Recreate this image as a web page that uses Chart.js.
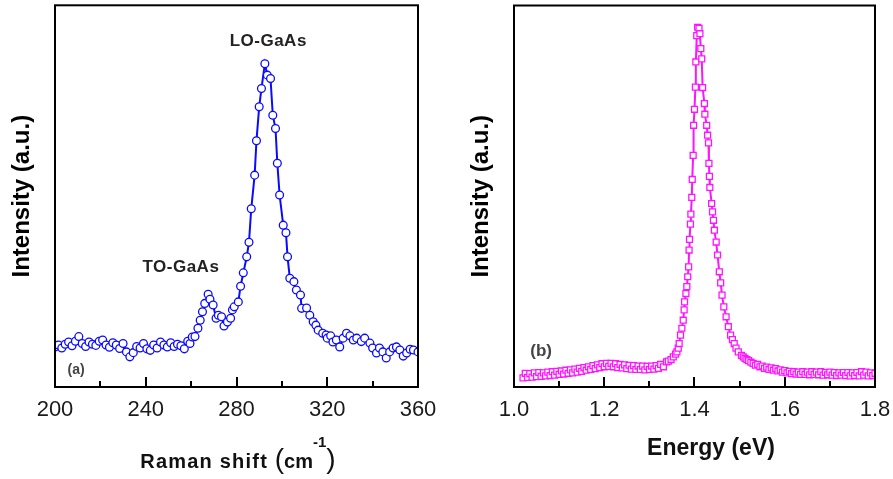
<!DOCTYPE html>
<html>
<head>
<meta charset="utf-8">
<script src="https://cdn.jsdelivr.net/npm/chart.js@4"></script>
<style>
body { margin:0; background:#fff; width:893px; height:479px; overflow:hidden; position:relative; }
canvas { position:absolute; top:0; }
</style>
</head>
<body>
<canvas id="raman" width="440" height="479" style="left:0"></canvas>
<canvas id="pl" width="453" height="479" style="left:440px"></canvas>
<script>
// (a) Raman spectrum
var ramanShift = [200,201.5,203,204.5,206,207.5,209,210.5,212,213.5,
  215,216.5,218,219.5,221,222.5,224,225.5,227,228.5,
  230,231.5,233,234.5,236,237.5,239,240.5,242,243.5,
  245,246.5,248,249.5,251,252.5,254,255.5,257,258.5,
  259.5,260.5,261.7,263,264,265,266,267.5,268.3,269.7,
  271,272,273.4,274.5,276,277.4,278.2,279,280.8,281.8,
  283,284.5,285.5,286.5,288,288.8,290,291,292.5,293.6,
  295,296,297.2,298,299,300.6,301.8,302.5,303.5,305.3,
  306.4,308.2,308.7,310.9,312.3,313.8,315,316,318,319.5,
  320,321.5,322.5,324,325.5,327,328.5,330,331.5,333,
  335,336.5,338.8,340,341.7,343,344.5,346,347.5,349,
  350.5,352,353.5,355,356.5,358,360];
var ramanInt = [10.5,11.0,10.2,11.2,11.8,10.8,12.0,13.2,11.4,10.6,
  11.8,11.2,10.9,12.0,12.3,11.0,10.4,11.6,11.0,10.1,
  11.4,9.2,7.9,9.0,10.6,10.2,11.4,10.0,9.6,11.0,
  10.2,11.8,11.0,10.5,11.6,10.6,11.2,10.8,10.0,12.0,
  11.4,13.1,13.2,15.4,17.5,19.7,21.9,24.3,23.0,21.5,
  18.0,18.8,18.4,16.0,17.0,18.0,20.2,21.0,22.3,26.4,
  29.9,34.1,37.9,46.7,55.5,64.5,73.4,78.2,84.7,81.7,
  80.8,71.2,67.7,58.6,50.3,42.4,40.4,34.1,28.5,27.6,
  25.4,24.1,20.6,20.7,18.8,17.1,16.2,14.9,14.1,13.6,
  12.8,13.4,11.8,12.3,10.5,12.8,14.1,13.4,12.3,12.8,
  11.9,12.8,11.5,10.2,8.9,10.2,9.2,7.6,9.2,10.2,
  10.5,9.7,8.1,8.9,9.9,9.7,9.2];
var ramanTicks = [200, 240, 280, 320, 360];
var ramanMinor = [220, 260, 300, 340];

// (b) PL spectrum
var energy = [1.020,1.025,1.030,1.035,1.040,1.045,1.050,1.055,1.060,1.065,
  1.070,1.075,1.080,1.085,1.090,1.095,1.100,1.105,1.110,1.115,
  1.120,1.125,1.130,1.135,1.140,1.145,1.150,1.155,1.160,1.165,
  1.170,1.175,1.180,1.185,1.190,1.195,1.200,1.205,1.210,1.215,
  1.220,1.225,1.230,1.235,1.240,1.245,1.250,1.255,1.260,1.265,
  1.270,1.275,1.280,1.285,1.290,1.295,1.300,1.305,1.310,1.315,
  1.320,1.325,1.331,1.338,1.342,1.348,1.353,1.358,1.361,1.364,
  1.366,1.369,1.372,1.375,1.377,1.378,1.381,1.383,1.385,1.387,
  1.388,1.389,1.391,1.392,1.394,1.395,1.397,1.398,1.400,1.402,
  1.403,1.405,1.407,1.410,1.412,1.414,1.416,1.418,1.422,1.423,
  1.427,1.429,1.431,1.432,1.433,1.434,1.438,1.440,1.442,1.444,
  1.448,1.451,1.455,1.458,1.461,1.465,1.470,1.475,1.480,1.484,
  1.488,1.492,1.497,1.504,1.508,1.512,1.516,1.520,1.525,1.530,
  1.535,1.540,1.545,1.550,1.555,1.560,1.565,1.570,1.575,1.580,
  1.585,1.590,1.595,1.600,1.605,1.610,1.615,1.620,1.625,1.630,
  1.635,1.640,1.645,1.650,1.655,1.660,1.665,1.670,1.675,1.680,
  1.685,1.690,1.695,1.700,1.705,1.710,1.715,1.720,1.725,1.730,
  1.735,1.740,1.745,1.750,1.755,1.760,1.765,1.770,1.775,1.780,
  1.785,1.790,1.795,1.800];
var plInt = [2.4,3.6,2.5,3.5,2.6,3.7,2.7,3.8,2.8,3.7,
  2.9,3.9,3.0,4.0,3.1,4.1,3.3,4.2,3.4,4.4,
  3.6,4.5,3.7,4.7,3.9,4.9,4.1,5.1,4.4,5.3,
  4.6,5.6,4.8,5.8,5.1,6.1,5.3,6.2,5.4,6.2,
  5.3,6.1,5.1,5.9,5.0,5.8,4.8,5.7,4.7,5.6,
  4.6,5.5,4.6,5.5,4.5,5.4,4.6,5.5,4.7,5.6,
  4.9,5.9,5.3,6.6,6.8,7.2,7.9,8.6,9.2,10.2,
  11.4,13.6,15.4,17.5,20.2,22.3,24.5,26.3,28.9,31.5,
  35.9,38.7,42.7,45.3,49.7,54.4,60.7,68.6,72.8,78.6,
  85.2,92.1,94.3,94.0,92.6,88.7,86.0,78.5,74.3,71.5,
  68.6,66.0,64.0,58.6,55.2,52.3,48.1,45.9,43.7,41.1,
  38.0,34.6,30.2,27.3,24.1,21.0,18.4,15.8,13.6,12.4,
  11.4,10.2,9.2,8.3,7.9,7.5,7.2,6.9,6.5,6.2,
  5.7,5.9,5.3,5.5,4.9,5.2,4.6,5.0,4.4,4.8,
  4.2,4.5,3.9,4.3,3.7,4.1,3.5,4.0,3.4,3.9,
  3.3,4.0,3.3,3.9,3.2,4.0,3.3,3.9,3.2,4.0,
  3.1,3.8,3.2,3.9,3.1,3.8,3.0,3.7,3.1,3.8,
  3.0,3.8,2.9,3.7,3.0,3.8,2.9,4.0,3.1,3.9,
  2.9,3.7,3.0,3.6];
var energyTicks = [1.0, 1.2, 1.4, 1.6, 1.8];
var energyMinor = [1.1, 1.3, 1.5, 1.7];

var FONT = '"Liberation Sans", Arial, sans-serif';

function toPoints(xs, ys) {
  return xs.map(function (x, i) { return { x: x, y: ys[i] }; });
}

// box frame, inward ticks, peak labels and x-axis title
function framePlugin(major, minor, labels, title) {
  return {
    id: 'frame',
    afterDraw: function (chart) {
      var ctx = chart.ctx, a = chart.chartArea;
      var xs = chart.scales.x, ys = chart.scales.y;
      ctx.save();
      ctx.strokeStyle = '#000';
      ctx.lineWidth = 2;
      ctx.strokeRect(a.left, a.top, a.right - a.left, a.bottom - a.top);
      for (var i = 0; i < major.length; i++) {
        var px = Math.round(xs.getPixelForValue(major[i]));
        ctx.beginPath();
        ctx.moveTo(px, a.bottom);
        ctx.lineTo(px, a.bottom - 10);
        ctx.stroke();
      }
      for (var j = 0; j < minor.length; j++) {
        var mx = Math.round(xs.getPixelForValue(minor[j]));
        ctx.beginPath();
        ctx.moveTo(mx, a.bottom);
        ctx.lineTo(mx, a.bottom - 6);
        ctx.stroke();
      }

      ctx.textAlign = 'center';
      ctx.textBaseline = 'middle';
      labels.forEach(function (l) {
        ctx.font = l.font;
        ctx.fillStyle = l.color;
        ctx.letterSpacing = l.spacing || '0px';
        ctx.fillText(l.text, xs.getPixelForValue(l.x), ys.getPixelForValue(l.y));
      });

      // x title made of parts (for the superscript)
      ctx.textAlign = 'left';
      ctx.textBaseline = 'alphabetic';
      var total = 0;
      title.parts.forEach(function (p) {
        ctx.font = p.font;
        ctx.letterSpacing = p.spacing || '0px';
        p.w = ctx.measureText(p.text).width;
        total += p.w;
      });
      var x = (a.left + a.right) / 2 + title.shift - total / 2;
      ctx.fillStyle = '#111';
      title.parts.forEach(function (p) {
        ctx.font = p.font;
        ctx.letterSpacing = p.spacing || '0px';
        ctx.fillText(p.text, x, title.baseline + (p.dy || 0));
        x += p.w;
      });
      ctx.restore();
    }
  };
}

function panel(id, xData, yData, color, style, radius, xMin, xMax, ticks, minor, fmt,
               padRight, yWidth, yTitlePad, labels, title) {
  return new Chart(document.getElementById(id), {
    type: 'line',
    data: {
      datasets: [{
        data: toPoints(xData, yData),
        borderColor: color,
        borderWidth: 2,
        pointStyle: style,
        pointRadius: radius,
        pointBorderWidth: 1.3,
        pointBorderColor: color,
        pointBackgroundColor: '#fff',
        tension: 0
      }]
    },
    options: {
      responsive: false,
      animation: false,
      events: [],
      layout: { padding: { left: 0, right: padRight, top: 5, bottom: 0 } },
      plugins: {
        legend: { display: false },
        tooltip: { enabled: false }
      },
      scales: {
        x: {
          type: 'linear', min: xMin, max: xMax,
          afterBuildTicks: function (s) { s.ticks = ticks.map(function (v) { return { value: v }; }); },
          afterFit: function (s) { s.height = 92; s.paddingLeft = 0; s.paddingRight = 0; },
          grid: { display: false, drawTicks: false },
          border: { display: false },
          ticks: {
            font: { family: FONT, size: 22 }, color: '#1a1a1a', padding: 10,
            maxRotation: 0, autoSkip: false, callback: fmt
          }
        },
        y: {
          min: 0, max: 100,
          afterFit: function (s) { s.width = yWidth; s.paddingTop = 0; s.paddingBottom = 0; },
          grid: { display: false, drawTicks: false },
          border: { display: false },
          ticks: { display: false },
          title: {
            display: true, text: 'Intensity (a.u.)', color: '#000',
            font: { family: FONT, size: 24, weight: 'bold' },
            padding: { top: yTitlePad, bottom: 0 }
          }
        }
      }
    },
    plugins: [framePlugin(ticks, minor, labels, title)]
  });
}

panel('raman', ramanShift, ramanInt, '#0a0aff', 'circle', 3.9, 200, 360,
  ramanTicks, ramanMinor, function (v) { return v; }, 22, 55, 7.6,
  [
    { text: 'LO-GaAs', x: 294, y: 90.6, font: 'bold 17px ' + FONT, color: '#222', spacing: '0.5px' },
    { text: 'TO-GaAs', x: 255.5, y: 31.4, font: 'bold 17px ' + FONT, color: '#222', spacing: '0.5px' },
    { text: '(a)', x: 209.3, y: 4.5, font: 'bold 14px ' + FONT, color: '#444' }
  ],
  { baseline: 468, shift: 1.5, parts: [
    { text: 'Raman shift ', font: 'bold 20px ' + FONT, spacing: '1.2px' },
    { text: '(', font: '28px ' + FONT },
    { text: 'cm', font: 'bold 20px ' + FONT },
    { text: '-1', font: 'bold 15px ' + FONT, dy: -21 },
    { text: ')', font: '28px ' + FONT }
  ] });

panel('pl', energy, plInt, '#ff14ff', 'rect', 4.2, 1.0, 1.8,
  energyTicks, energyMinor, function (v) { return v.toFixed(1); }, 18, 74, 26.6,
  [
    { text: '(b)', x: 1.06, y: 9.4, font: 'bold 17px ' + FONT, color: '#444' }
  ],
  { baseline: 455, shift: 16.5, parts: [
    { text: 'Energy (eV)', font: 'bold 23px ' + FONT }
  ] });
</script>
</body>
</html>
